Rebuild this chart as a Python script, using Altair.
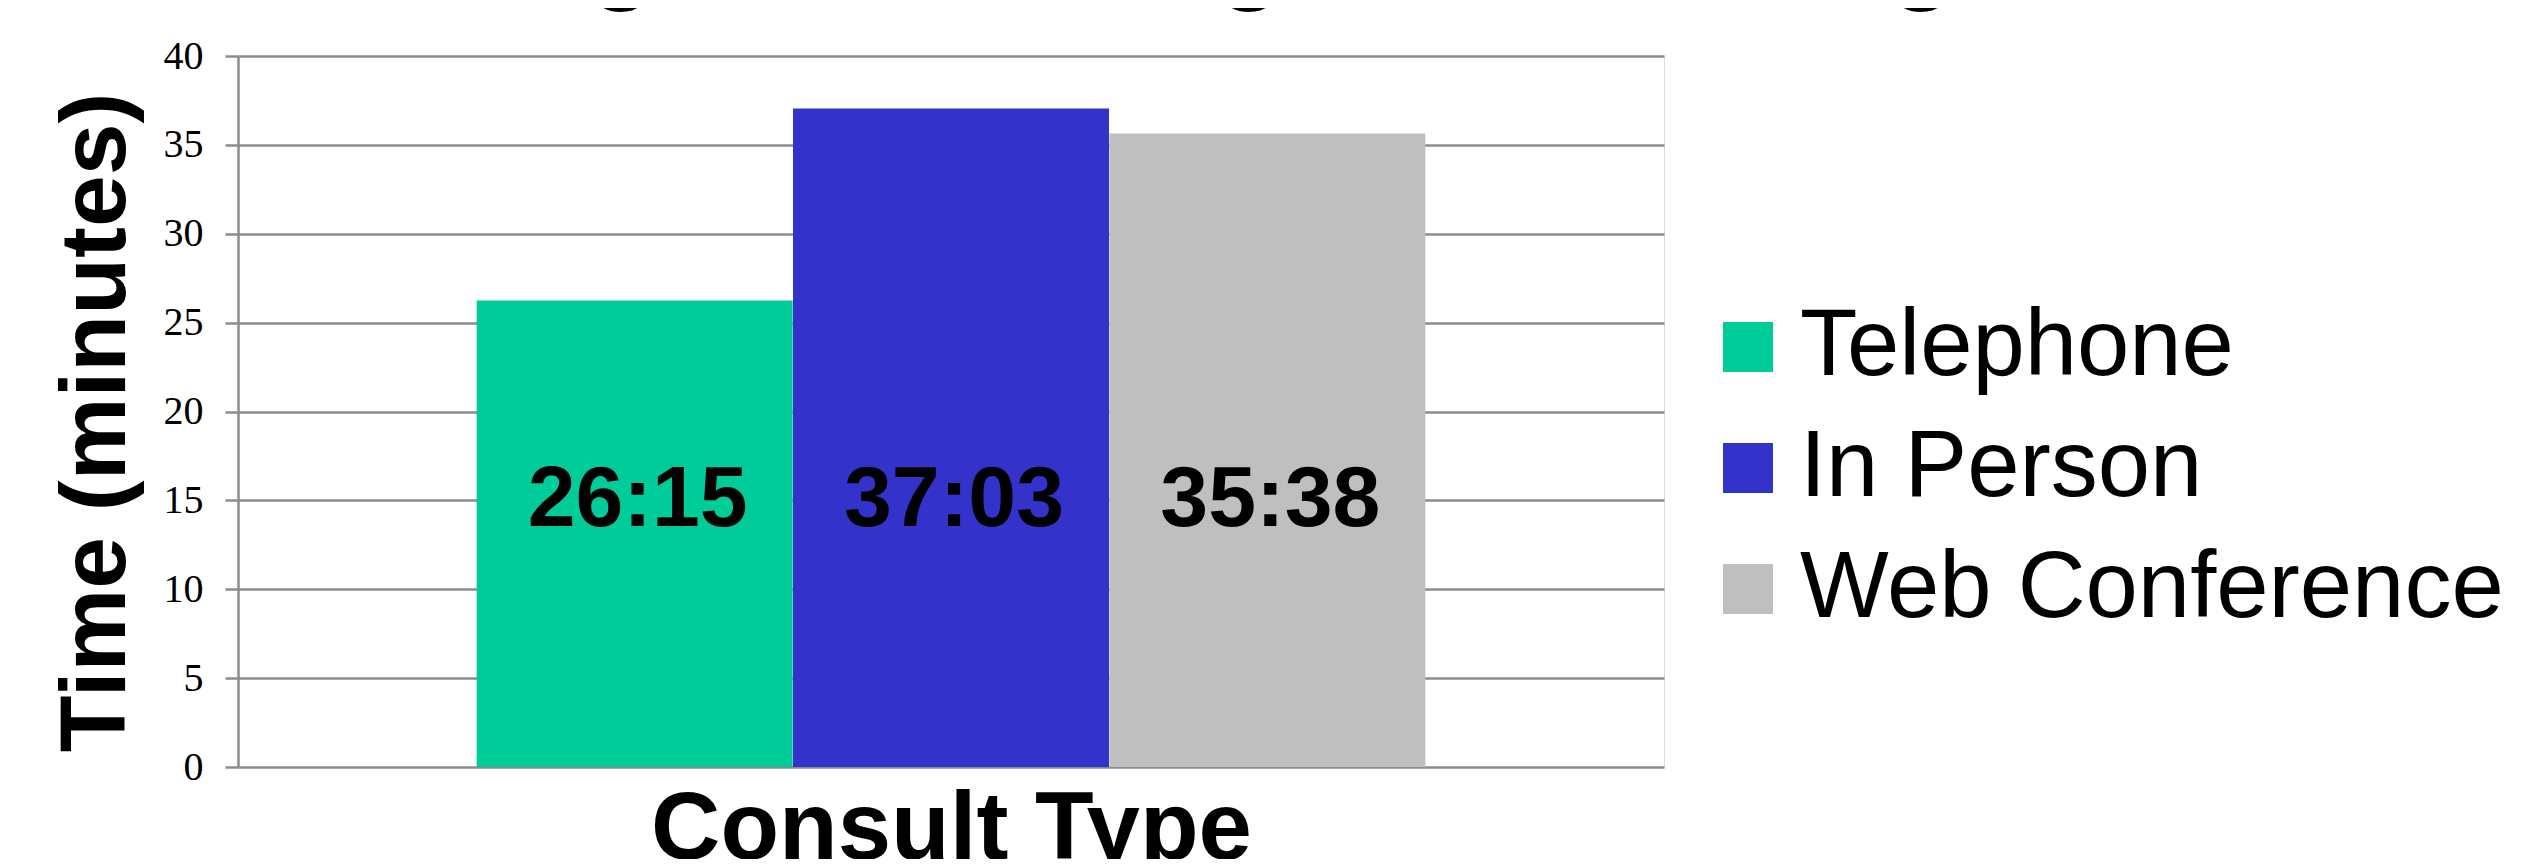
import altair as alt
import pandas as pd

categories = ["Telephone", "In Person", "Web Conference"]
minutes = [26.25, 37.05, 35.633]
labels = ["26:15", "37:03", "35:38"]
colors = ["#00CC99", "#3333CC", "#BFBFBF"]
title_text = ["Average Time Length of Meeting"]

df = pd.DataFrame({"type": categories, "minutes": minutes, "label": labels})
tdf = pd.DataFrame({"t": title_text})

GRAY = "#8C8C8C"

x_enc = alt.X(
    "type:N",
    sort=categories,
    scale=alt.Scale(paddingInner=0, paddingOuter=0.754),
    axis=alt.Axis(
        labels=False, ticks=False, domain=False, grid=False,
        title="Consult Type", titleFont="Liberation Sans", titleFontSize=96,
        titleFontWeight="bold", titleColor="black",
        titleBaseline="alphabetic", titleY=91,
    ),
)

bars = alt.Chart(df).mark_bar(size=316).encode(
    x=x_enc,
    y=alt.Y(
        "minutes:Q",
        scale=alt.Scale(domain=[0, 40], nice=False),
        axis=alt.Axis(
            values=[0, 5, 10, 15, 20, 25, 30, 35, 40],
            title="Time (minutes)", titleFont="Liberation Sans", titleFontSize=93,
            titleFontWeight="bold", titleColor="black",
            titleBaseline="alphabetic", titleX=-114, titleY=366, titleAngle=270,
            labelFont="Liberation Serif", labelFontSize=40, labelColor="black",
            labelPadding=22,
            tickSize=13, tickColor=GRAY, tickWidth=2.5,
            domainColor=GRAY, domainWidth=2.5,
            gridColor=GRAY, gridWidth=2.5,
        ),
    ),
    color=alt.Color(
        "type:N",
        sort=categories,
        scale=alt.Scale(domain=categories, range=colors),
        legend=alt.Legend(
            title=None, orient="none", legendX=1463, legendY=244,
            symbolType="square", symbolSize=2500, symbolStrokeWidth=0,
            labelFont="Liberation Sans", labelFontSize=94, labelColor="black",
            labelOffset=5, rowPadding=27, padding=0, labelLimit=1000,
        ),
    ),
)

text = alt.Chart(df).mark_text(
    font="Liberation Sans", fontSize=86, fontWeight="bold", color="black",
    baseline="middle", align="center", dx=3,
).encode(
    x=alt.X("type:N", sort=categories),
    y=alt.datum(15),
    text="label:N",
)

title = alt.Chart(tdf).mark_text(
    font="Liberation Sans", fontSize=108, fontWeight="bold", color="black",
    baseline="alphabetic", align="center",
).encode(
    x=alt.value(886),
    y=alt.value(-66),
    text="t:N",
)

chart = alt.layer(bars, text, title).properties(
    width=1426,
    height=711,
    padding={"left": 230, "top": 48, "right": 853, "bottom": 92},
    autosize=alt.AutoSizeParams(type="none"),
).configure_view(stroke=None).configure(background="white")

chart.save("out.html", embed_options={"renderer": "svg", "actions": False})
